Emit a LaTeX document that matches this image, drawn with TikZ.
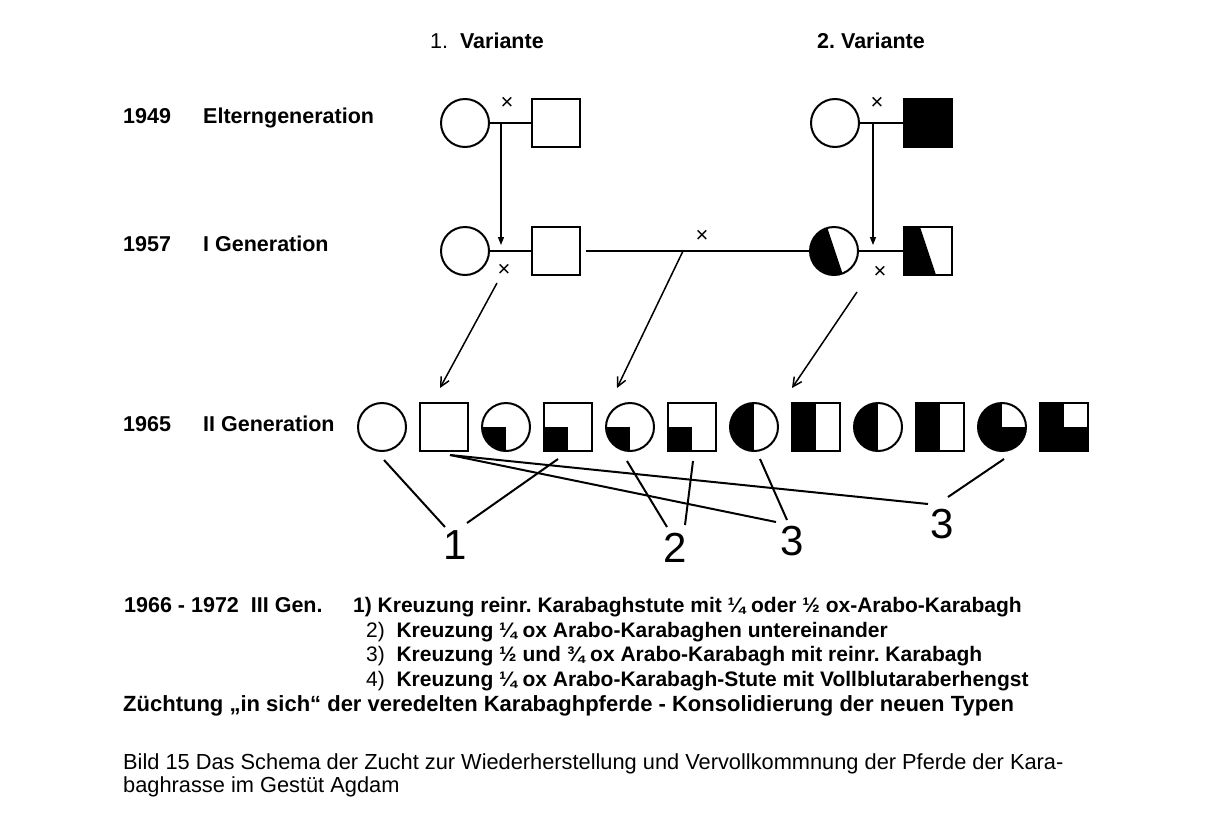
\documentclass[tikz,border=0pt]{standalone}
\usepackage{fontspec}
\setmainfont{Liberation Sans}
\usetikzlibrary{positioning,arrows.meta,calc}
\frenchspacing
\tikzset{
  mare/.style={circle,draw,line width=2pt,minimum size=48pt,inner sep=0pt},
  stal/.style={rectangle,draw,line width=2pt,minimum size=48pt,inner sep=0pt},
  nofill/.style={},
  qfill/.style={path picture={\fill (path picture bounding box.south west) rectangle (path picture bounding box.center);}},
  hfill/.style={path picture={\fill (path picture bounding box.south west) rectangle (path picture bounding box.north);}},
  tfill/.style={path picture={\fill (path picture bounding box.south west) rectangle (path picture bounding box.east);
      \fill (path picture bounding box.south west) rectangle (path picture bounding box.north);}},
  pair/.style={line width=2.4pt},
  cross/.style={font=\fontsize{22}{22}\selectfont,inner sep=0pt},
  lab/.style={font=\fontsize{21.5}{21.5}\selectfont\bfseries,anchor=base west,inner sep=0pt},
  txt/.style={font=\fontsize{21}{21}\selectfont\bfseries,anchor=base west,inner sep=0pt},
  captxt/.style={font=\fontsize{21.8}{21.8}\selectfont,anchor=base west,inner sep=0pt},
  num/.style={font=\fontsize{42}{42}\selectfont,inner sep=0pt},
  down/.style={line width=1.2pt,-{Triangle[length=8pt,width=6pt]}},
  diag/.style={line width=1.5pt,-{Straight Barb[length=9pt,width=9pt]}},
  link/.style={line width=2pt}
}
\begin{document}
\begin{tikzpicture}[x=1pt,y=-1pt]
  \useasboundingbox (0,0) rectangle (1225,814);
  % --- headings ---
  \node[lab] (var1) at (430,48) {\mdseries 1.\ \ \bfseries Variante};
  \node[lab] (var2) at (817,48) {2. Variante};
  \node[lab] (y49) at (123,123) {1949};
  \node[lab] (t49) at (203,123) {Elterngeneration};
  \node[lab] (y57) at (123,251) {1957};
  \node[lab] (t57) at (203,251) {I Generation};
  \node[lab] (y65) at (123,431) {1965};
  \node[lab] (t65) at (203,431) {II Generation};
  % --- parents 1949 ---
  \node[mare] (pc1) at (465,123) {};
  \node[stal] (ps1) at (556,123) {};
  \node[mare] (pc2) at (835,123) {};
  \node[stal,fill=black] (ps2) at (928,123) {};
  \draw[pair] (pc1) -- (ps1);
  \draw[pair] (pc2) -- (ps2);
  \node[cross] (x1) at (507,103) {×};
  \node[cross] (x2) at (877,103) {×};
  % --- I generation 1957 ---
  \node[mare] (ic1) at (465,251) {};
  \node[stal] (is1) at (556,251) {};
  \node[mare,path picture={\fill (path picture bounding box.north west) -- ([xshift=-7pt]path picture bounding box.north)
      -- ([xshift=9pt]path picture bounding box.south) -- (path picture bounding box.south west) -- cycle;}] (ic2) at (834,251) {};
  \node[stal,path picture={\fill (path picture bounding box.north west) -- ([xshift=-8pt]path picture bounding box.north)
      -- ([xshift=8pt]path picture bounding box.south) -- (path picture bounding box.south west) -- cycle;}] (is2) at (928,251) {};
  \draw[pair] (ic1) -- (is1);
  \draw[pair] (ic2) -- (is2);
  \draw[line width=1.6pt] ([xshift=5pt]is1.east) -- (ic2.west);
  \node[cross] (x3) at (504,270) {×};
  \node[cross] (x4) at (702,236) {×};
  \node[cross] (x5) at (880,272) {×};
  \coordinate (m1) at (501,123);
  \coordinate (m2) at (873,123);
  \coordinate (t1) at (501,245);
  \coordinate (t2) at (873,245);
  \draw[down] (m1) -- (t1);
  \draw[down] (m2) -- (t2);
  % --- arrows to II generation ---
  \coordinate (a1) at (497,283);
  \coordinate (a2) at (683,251);
  \coordinate (a3) at (857,292);
  \coordinate (e1) at (440,388);
  \coordinate (e2) at (617,388);
  \coordinate (e3) at (792,388);
  \draw[diag] (a1) -- (e1);
  \draw[diag] (a2) -- (e2);
  \draw[diag] (a3) -- (e3);
  % --- II generation 1965 ---
  \foreach \i/\shp/\fl in {1/mare/nofill,2/stal/nofill,3/mare/qfill,4/stal/qfill,
        5/mare/qfill,6/stal/qfill,7/mare/hfill,8/stal/hfill,
        9/mare/hfill,10/stal/hfill,11/mare/tfill,12/stal/tfill}{%
    \node[\shp,\fl] (g\i) at ({382+62*(\i-1)},427) {};}
  % --- groups ---
  \node[num] (n1) at (455,545) {1};
  \node[num] (n2) at (675,548) {2};
  \node[num] (n3) at (792,541) {3};
  \node[num] (n4) at (942,524) {3};
  \coordinate (n1a) at (445,527);
  \coordinate (n1b) at (467,523);
  \coordinate (n2a) at (667,527);
  \coordinate (n2b) at (685,525);
  \coordinate (n3a) at (787,520);
  \coordinate (n3b) at (776,522);
  \coordinate (n4a) at (928,504);
  \coordinate (n4b) at (948,497);
  \coordinate (s2o) at (450,455);
  \draw[link] ([xshift=2pt,yshift=-8pt]g1.south) -- (n1a);
  \draw[link] ([xshift=-10pt,yshift=-7pt]g4.south) -- (n1b);
  \draw[link] (s2o) -- (n3b);
  \draw[link] (s2o) -- (n4a);
  \draw[link] ([xshift=-3pt,yshift=-9pt]g5.south) -- (n2a);
  \draw[link] ([xshift=1pt,yshift=-9pt]g6.south) -- (n2b);
  \draw[link] ([xshift=6pt,yshift=-7pt]g7.south) -- (n3a);
  \draw[link] ([xshift=2pt,yshift=-7pt]g11.south) -- (n4b);
  % --- text block ---
  \node[txt,font=\fontsize{21.5}{21.5}\selectfont\bfseries] (l0) at (124,612) {1966 - 1972\ \ III Gen.};
  \node[txt] (l1) at (353,612) {1) Kreuzung reinr. Karabaghstute mit ¼ oder ½ ox-Arabo-Karabagh};
  \node[txt] (l2) at (366,637) {\mdseries 2)\ \ \bfseries Kreuzung ¼ ox Arabo-Karabaghen untereinander};
  \node[txt] (l3) at (366,661) {\mdseries 3)\ \ \bfseries Kreuzung ½ und ¾ ox Arabo-Karabagh mit reinr. Karabagh};
  \node[txt] (l4) at (366,686) {\mdseries 4)\ \ \bfseries Kreuzung ¼ ox Arabo-Karabagh-Stute mit Vollblutaraberhengst};
  \node[txt,font=\fontsize{22}{22}\selectfont\bfseries] (l5) at (123,711) {Züchtung „in sich“ der veredelten Karabaghpferde - Konsolidierung der neuen Typen};
  \node[captxt] (c1) at (123,769) {Bild 15 Das Schema der Zucht zur Wiederherstellung und Vervollkommnung der Pferde der Kara-};
  \node[captxt] (c2) at (123,792) {baghrasse im Gestüt Agdam};
\end{tikzpicture}
\end{document}
